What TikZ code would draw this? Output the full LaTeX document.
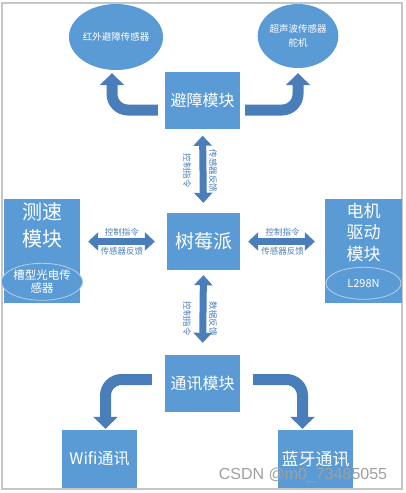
\documentclass[tikz,border=0pt]{standalone}
\usepackage{fontspec}
\newfontfamily\cjk{Noto Sans CJK SC}
\newfontfamily\markfont{Liberation Sans}
\usepackage{tikz}
\usetikzlibrary{shapes.geometric,arrows.meta,positioning,calc}
\definecolor{boxblue}{HTML}{5B9BD5}
\definecolor{arrowblue}{HTML}{4A7EBB}
\definecolor{ringblue}{HTML}{B4D0EE}
\newcommand{\fs}[2]{\fontsize{#1}{#2}\selectfont}

\begin{document}
\begin{tikzpicture}[x=1pt, y=-1pt,
  block/.style={rectangle, fill=boxblue, text=white, align=center,
                minimum width=75pt, minimum height=57pt, inner sep=2pt, font=\cjk\fs{16}{19}},
  bigbox/.style={rectangle, fill=boxblue, minimum width=76pt, minimum height=104pt, inner sep=0pt},
  cloud/.style={ellipse, fill=boxblue, text=white, align=center, inner sep=0pt,
                font=\cjk\fs{9.5}{14}},
  ring/.style={ellipse, draw=ringblue, line width=0.8pt, fill=boxblue, text=white,
               align=center, inner sep=0pt, minimum width=75pt},
  bigarrow/.style={draw=arrowblue, line width=11pt, rounded corners=16pt,
                   -{Triangle[width=24pt,length=12pt]}},
  dblarrow/.style={draw=arrowblue, line width=7pt,
                   {Triangle[width=18pt,length=10pt]}-{Triangle[width=18pt,length=10pt]}},
  tag/.style={text=arrowblue, font=\cjk\fs{8.5}{10}, inner sep=0pt},
  vtag/.style={tag, rotate=-90}
]
  \useasboundingbox (0,0) rectangle (406,493);
  \draw[gray!45, line width=1.5pt] (2,3) rectangle (402,489);

  % Obstacle avoidance
  \node[block] (obst) at (202.5,100) {避障模块};
  \node[cloud, minimum width=88pt, minimum height=66pt] (ir) at (116,37) {红外避障传感器};
  \node[cloud, minimum width=80pt, minimum height=64pt] (us) at (298,36) {超声波传感器\\舵机};

  \draw[bigarrow, shorten <=7pt, shorten >=3pt] ([yshift=-10pt]obst.west) -| ([xshift=-4pt]ir.south);
  \draw[bigarrow, shorten <=5pt, shorten >=5pt] ([yshift=-10pt]obst.east) -| (us.south);

  % Raspberry Pi
  \node[block, minimum width=73pt, font=\cjk\fs{19}{22}] (rpi) at (203.5,241.5) {树莓派};

  \draw[dblarrow, shorten <=7pt, shorten >=10pt] (obst.south) -- (rpi.north);
  \node[vtag] (ctl1) at ($(obst.south)!0.5!(rpi.north)+(-16,0)$) {控制指令};
  \node[vtag] (fb1) at ($(obst.south)!0.5!(rpi.north)+(10,0)$) {传感器反馈};

  % Speed measurement
  \node[bigbox] (speed) at (42,250.5) {};
  \node[below=1pt of speed.north, text=white, align=center, font=\cjk\fs{20}{27}] (speedtxt) {测速\\模块};
  \node[ring, minimum height=37pt, above=2pt of speed.south, font=\cjk\fs{11.5}{13}] (slot) {槽型光电传\\感器};

  \draw[dblarrow, shorten <=8pt, shorten >=12pt] (speed.east |- rpi.west) -- (rpi.west);
  \node[tag, above=5pt of {$(speed.east |- rpi.west)!0.48!(rpi.west)$}] (ctl2) {控制指令};
  \node[tag, below=6pt of {$(speed.east |- rpi.west)!0.48!(rpi.west)$}] (fb2) {传感器反馈};

  % Motor driver
  \node[bigbox, minimum width=77pt] (motor) at (363.5,250.5) {};
  \node[below=1pt of motor.north, text=white, align=center, font=\cjk\fs{17}{21.5}] (motortxt) {电机\\驱动\\模块};
  \node[ring, minimum height=32pt, above=3pt of motor.south, font=\cjk\fs{11}{13}] (l298) {L298N};

  \draw[dblarrow, shorten <=8pt, shorten >=10pt] (rpi.east) -- (motor.west |- rpi.east);
  \node[tag, above=5pt of {$(rpi.east)!0.5!(motor.west |- rpi.east)$}] (ctl3) {控制指令};
  \node[tag, below=6pt of {$(rpi.east)!0.5!(motor.west |- rpi.east)$}] (fb3) {传感器反馈};

  % Communication
  \node[block] (comm) at (202.5,383.5) {通讯模块};
  \node[block, minimum height=58pt] (wifi) at (99.5,459) {Wifi通讯};
  \node[block, minimum height=58pt, font=\cjk\fs{17}{19}] (bt) at (315.5,459) {蓝牙通讯};

  \draw[dblarrow, shorten <=5pt, shorten >=12pt] (rpi.south) -- (comm.north);
  \node[vtag] (ctl4) at ($(rpi.south)!0.5!(comm.north)+(-16,6)$) {控制指令};
  \node[vtag] (fb4) at ($(rpi.south)!0.5!(comm.north)+(10,6)$) {数据反馈};

  \draw[bigarrow, shorten <=13pt, shorten >=1pt] ([yshift=4pt]comm.west) -| ([xshift=6pt]wifi.north);
  \draw[bigarrow, shorten <=13pt, shorten >=1pt] ([yshift=4pt]comm.east) -| ([xshift=-13pt]bt.north);

  \node[text=gray!75, font=\markfont\fs{16}{16}, inner sep=0pt] (mark) at (303,475) {CSDN @m0\_73485055};
\end{tikzpicture}
\end{document}
